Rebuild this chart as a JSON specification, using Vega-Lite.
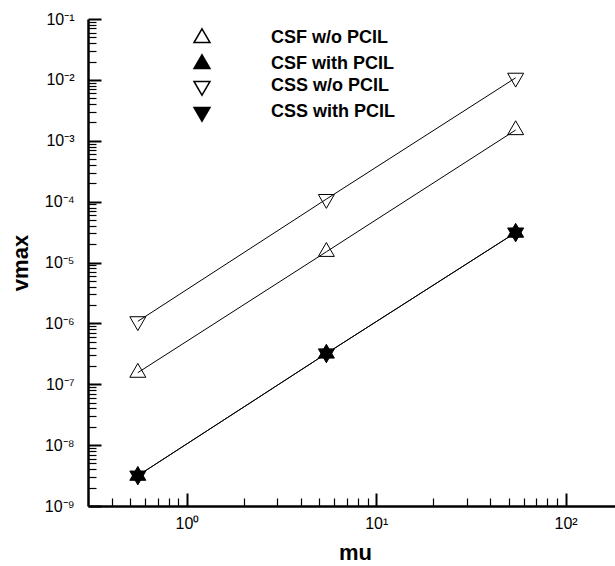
{
  "$schema": "https://vega.github.io/schema/vega-lite/v6.json",
  "width": 527,
  "height": 487,
  "autosize": {"type": "none"},
  "padding": {"left": 88, "top": 19, "right": 0, "bottom": 60},
  "background": "white",
  "config": {
    "view": {"stroke": null},
    "font": "Liberation Sans"
  },
  "data": {
    "values": [
      {"series": "CSF w/o PCIL", "mu": 0.55, "vmax": 1.55e-7},
      {"series": "CSF w/o PCIL", "mu": 5.45, "vmax": 1.5e-5},
      {"series": "CSF w/o PCIL", "mu": 54.5, "vmax": 1.5e-3},
      {"series": "CSF with PCIL", "mu": 0.55, "vmax": 3.15e-9},
      {"series": "CSF with PCIL", "mu": 5.45, "vmax": 3.2e-7},
      {"series": "CSF with PCIL", "mu": 54.5, "vmax": 3.1e-5},
      {"series": "CSS w/o PCIL", "mu": 0.55, "vmax": 1.08e-6},
      {"series": "CSS w/o PCIL", "mu": 5.45, "vmax": 1.1e-4},
      {"series": "CSS w/o PCIL", "mu": 54.5, "vmax": 1.08e-2},
      {"series": "CSS with PCIL", "mu": 0.55, "vmax": 3.15e-9},
      {"series": "CSS with PCIL", "mu": 5.45, "vmax": 3.2e-7},
      {"series": "CSS with PCIL", "mu": 54.5, "vmax": 3.1e-5}
    ]
  },
  "encoding": {
    "x": {
      "field": "mu",
      "type": "quantitative",
      "scale": {"type": "log", "domain": [0.3, 182.5], "nice": false},
      "axis": {
        "orient": "bottom",
        "values": [0.4, 0.5, 0.6, 0.7, 0.8, 0.9, 1, 2, 3, 4, 5, 6, 7, 8, 9, 10, 20, 30, 40, 50, 60, 70, 80, 90, 100],
        "grid": false,
        "domainColor": "black",
        "domainWidth": 2.5,
        "tickColor": "black",
        "tickSize": {"condition": {"test": "abs(log(datum.value)/LN10 - round(log(datum.value)/LN10)) < 0.001", "value": -13}, "value": -8},
        "tickWidth": {"condition": {"test": "abs(log(datum.value)/LN10 - round(log(datum.value)/LN10)) < 0.001", "value": 2}, "value": 1.2},
        "labelExpr": "abs(log(datum.value)/LN10 - round(log(datum.value)/LN10)) < 0.001 ? '10' + (round(log(datum.value)/LN10) < 0 ? '⁻' : '') + substring('⁰¹²³⁴⁵⁶⁷⁸⁹', abs(round(log(datum.value)/LN10)), abs(round(log(datum.value)/LN10)) + 1) : ''",
        "labelFont": "Liberation Sans",
        "labelFontSize": 16,
        "labelColor": "black",
        "labelPadding": 22,
        "labelOverlap": false,
        "labelFlush": false,
        "title": "mu",
        "titleFont": "Liberation Sans",
        "titleFontSize": 22,
        "titleFontWeight": "bold",
        "titleColor": "black",
        "titleX": 267,
        "titleY": 46,
        "titleBaseline": "middle",
        "titleAlign": "center"
      }
    },
    "y": {
      "field": "vmax",
      "type": "quantitative",
      "scale": {"type": "log", "domain": [1e-9, 1e-1], "nice": false},
      "axis": {
        "orient": "left",
        "values": [1e-9, 2e-9, 3e-9, 4e-9, 5e-9, 6e-9, 7e-9, 8e-9, 9e-9,
                   1e-8, 2e-8, 3e-8, 4e-8, 5e-8, 6e-8, 7e-8, 8e-8, 9e-8,
                   1e-7, 2e-7, 3e-7, 4e-7, 5e-7, 6e-7, 7e-7, 8e-7, 9e-7,
                   1e-6, 2e-6, 3e-6, 4e-6, 5e-6, 6e-6, 7e-6, 8e-6, 9e-6,
                   1e-5, 2e-5, 3e-5, 4e-5, 5e-5, 6e-5, 7e-5, 8e-5, 9e-5,
                   1e-4, 2e-4, 3e-4, 4e-4, 5e-4, 6e-4, 7e-4, 8e-4, 9e-4,
                   1e-3, 2e-3, 3e-3, 4e-3, 5e-3, 6e-3, 7e-3, 8e-3, 9e-3,
                   1e-2, 2e-2, 3e-2, 4e-2, 5e-2, 6e-2, 7e-2, 8e-2, 9e-2,
                   1e-1],
        "grid": false,
        "domainColor": "black",
        "domainWidth": 2.5,
        "tickColor": "black",
        "tickSize": {"condition": {"test": "abs(log(datum.value)/LN10 - round(log(datum.value)/LN10)) < 0.001", "value": -13}, "value": -8},
        "tickWidth": {"condition": {"test": "abs(log(datum.value)/LN10 - round(log(datum.value)/LN10)) < 0.001", "value": 2}, "value": 1.2},
        "labelExpr": "abs(log(datum.value)/LN10 - round(log(datum.value)/LN10)) < 0.001 ? '10' + (round(log(datum.value)/LN10) < 0 ? '⁻' : '') + substring('⁰¹²³⁴⁵⁶⁷⁸⁹', abs(round(log(datum.value)/LN10)), abs(round(log(datum.value)/LN10)) + 1) : ''",
        "labelFont": "Liberation Sans",
        "labelFontSize": 16,
        "labelColor": "black",
        "labelPadding": 27,
        "labelOverlap": false,
        "labelFlush": false,
        "title": "vmax",
        "titleFont": "Liberation Sans",
        "titleFontSize": 22,
        "titleFontWeight": "bold",
        "titleColor": "black",
        "titleAngle": -90,
        "titleX": -68,
        "titleY": 243.5,
        "titleBaseline": "middle",
        "titleAlign": "center"
      }
    }
  },
  "layer": [
    {
      "mark": {"type": "point", "filled": true, "size": 256, "stroke": "black", "strokeWidth": 1, "opacity": 1},
      "encoding": {
        "shape": {
          "field": "series",
          "type": "nominal",
          "scale": {
            "domain": ["CSF w/o PCIL", "CSF with PCIL", "CSS w/o PCIL", "CSS with PCIL"],
            "range": ["M0,-1.155L1,0.577L-1,0.577Z", "M0,-1.155L1,0.577L-1,0.577Z", "M0,1.155L1,-0.577L-1,-0.577Z", "M0,1.155L1,-0.577L-1,-0.577Z"]
          },
          "legend": {
            "title": null,
            "orient": "none",
            "legendX": 105,
            "legendY": 10,
            "padding": 0,
            "symbolSize": 256,
            "labelFont": "Liberation Sans",
            "labelFontSize": 18,
            "labelFontWeight": "bold",
            "labelColor": "black",
            "labelOffset": 60,
            "rowPadding": 4
          }
        },
        "fill": {
          "field": "series",
          "type": "nominal",
          "scale": {
            "domain": ["CSF w/o PCIL", "CSF with PCIL", "CSS w/o PCIL", "CSS with PCIL"],
            "range": ["white", "black", "white", "black"]
          }
        }
      }
    },
    {
      "mark": {"type": "line", "color": "black", "strokeWidth": 1},
      "encoding": {
        "detail": {"field": "series", "type": "nominal"},
        "order": {"field": "mu", "type": "quantitative"}
      }
    }
  ]
}
